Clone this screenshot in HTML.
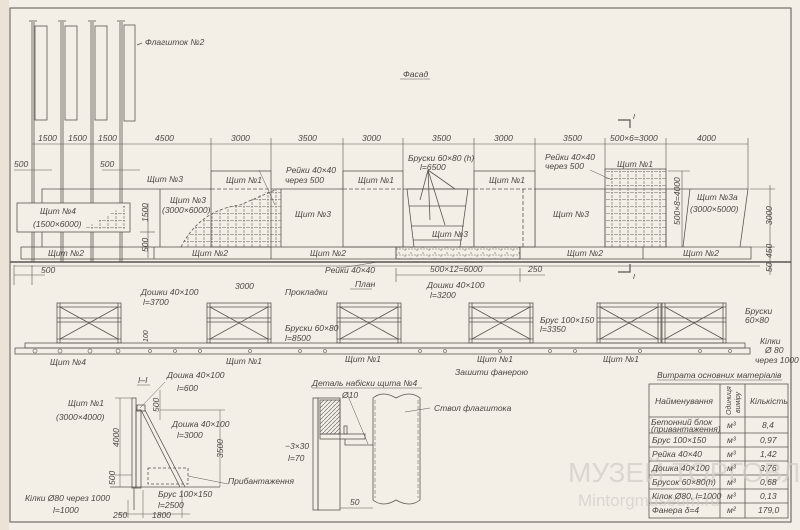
<!DOCTYPE html>
<html><head><meta charset="utf-8"><style>
html,body{margin:0;padding:0;background:#f3efe6;}
svg{display:block}
text{font-family:"Liberation Sans",sans-serif;font-style:italic;fill:#4a4642;font-size:8.5px}
</style></head><body>
<svg width="800" height="530" viewBox="0 0 800 530" xmlns="http://www.w3.org/2000/svg">
<defs>
<pattern id="grid" width="8" height="7" patternUnits="userSpaceOnUse">
<path d="M0 3.5H8M4 0V7" stroke="#6a6560" stroke-width="0.6" stroke-dasharray="2 1"/>
</pattern>
<pattern id="brick" width="12" height="6" patternUnits="userSpaceOnUse">
<path d="M0 3H12M3 0V3M9 3V6" stroke="#6a6560" stroke-width="0.6" stroke-dasharray="2 1"/>
</pattern>
<pattern id="hatch" width="4" height="4" patternUnits="userSpaceOnUse">
<path d="M0 4L4 0" stroke="#555" stroke-width="0.6"/>
</pattern>
</defs>
<rect x="0" y="0" width="800" height="530" fill="#f3efe6"/>
<rect x="0" y="0" width="9" height="530" fill="#ebe3d6"/>
<g fill="none" stroke="#5a5550" stroke-width="0.8">
<rect x="10" y="8" width="781" height="514" stroke-width="1"/>
<g>
<line x1="32" y1="22" x2="32" y2="262"/><line x1="34" y1="22" x2="34" y2="262"/><rect x="35" y="26" width="12" height="94"/>
<line x1="61" y1="22" x2="61" y2="262"/><line x1="63" y1="22" x2="63" y2="262"/><rect x="65" y="26" width="12" height="94"/>
<line x1="91" y1="22" x2="91" y2="262"/><line x1="93" y1="22" x2="93" y2="262"/><rect x="95" y="26" width="12" height="94"/>
<line x1="120" y1="22" x2="120" y2="262"/><line x1="122" y1="22" x2="122" y2="262"/><rect x="124" y="25" width="11" height="96"/>
<line x1="29" y1="21" x2="37" y2="21"/><line x1="58" y1="21" x2="66" y2="21"/><line x1="88" y1="21" x2="96" y2="21"/><line x1="117" y1="21" x2="125" y2="21"/>
<line x1="137" y1="45" x2="142" y2="43"/>
</g>
<line x1="32" y1="144" x2="748" y2="144" stroke-width="0.6"/>
<g stroke-width="0.6">
<line x1="211" y1="138" x2="211" y2="171"/><line x1="271" y1="138" x2="271" y2="171"/><line x1="343" y1="138" x2="343" y2="189"/><line x1="403" y1="138" x2="403" y2="171"/><line x1="474" y1="138" x2="474" y2="171"/><line x1="535" y1="138" x2="535" y2="171"/><line x1="605" y1="138" x2="605" y2="171"/><line x1="666" y1="138" x2="666" y2="171"/><line x1="748" y1="138" x2="748" y2="189"/>
<line x1="14" y1="170" x2="52" y2="170"/><line x1="102" y1="170" x2="140" y2="170"/>
<line x1="750" y1="189" x2="775" y2="189"/><line x1="750" y1="247" x2="775" y2="247"/><line x1="770" y1="185" x2="770" y2="275"/>
<line x1="14" y1="265" x2="14" y2="285"/><line x1="32" y1="265" x2="32" y2="285"/><line x1="14" y1="275" x2="45" y2="275"/>
<line x1="396" y1="268" x2="396" y2="282"/><line x1="520" y1="268" x2="520" y2="282"/><line x1="396" y1="275" x2="545" y2="275"/>
<line x1="148" y1="203" x2="148" y2="258"/><line x1="140" y1="232" x2="155" y2="232"/>
<line x1="668" y1="171" x2="690" y2="171"/><line x1="682" y1="171" x2="682" y2="247"/>
</g>
<path d="M42 247V189H748L740 247"/>
<line x1="160" y1="189" x2="160" y2="247"/><line x1="281" y1="189" x2="281" y2="247"/><line x1="403" y1="189" x2="403" y2="247"/><line x1="474" y1="189" x2="474" y2="247"/><line x1="535" y1="189" x2="535" y2="247"/><line x1="605" y1="189" x2="605" y2="247"/><line x1="666" y1="189" x2="666" y2="247"/><line x1="690" y1="189" x2="683" y2="247"/>
<rect x="211" y="171" width="60" height="76" fill="#f3efe6"/>
<rect x="343" y="171" width="60" height="76" fill="#f3efe6"/>
<rect x="474" y="171" width="61" height="76" fill="#f3efe6"/>
<rect x="605" y="169" width="61" height="78" fill="url(#grid)"/>
<line x1="211" y1="189" x2="271" y2="189" stroke-dasharray="4 2"/><line x1="343" y1="189" x2="403" y2="189" stroke-dasharray="4 2"/><line x1="474" y1="189" x2="535" y2="189" stroke-dasharray="4 2"/><line x1="523" y1="189" x2="523" y2="247" stroke-dasharray="4 2"/>
<path d="M181 247Q200 210 240 205L270 190L281 189V247Z" fill="url(#grid)" stroke="none"/>
<path d="M181 247Q200 210 240 205L275 190" stroke-dasharray="3 2"/>
<path d="M407 189L414 247M468 189L460 247"/>
<line x1="407" y1="189" x2="468" y2="189"/><line x1="409" y1="206" x2="466" y2="206"/><line x1="411" y1="226" x2="464" y2="226"/><line x1="413" y1="240" x2="462" y2="240"/>
<line x1="428" y1="170" x2="420" y2="200"/><line x1="428" y1="170" x2="430" y2="220"/><line x1="428" y1="170" x2="445" y2="225"/><line x1="428" y1="170" x2="455" y2="189"/>
<rect x="17" y="203" width="113" height="29" fill="#f3efe6"/>
<path d="M82 230L125 205V230Z" fill="url(#grid)" stroke="none"/>
<rect x="21" y="247" width="730" height="12"/>
<line x1="154" y1="247" x2="154" y2="259"/><line x1="271" y1="247" x2="271" y2="259"/><line x1="396" y1="247" x2="396" y2="259"/><line x1="520" y1="247" x2="520" y2="259"/><line x1="643" y1="247" x2="643" y2="259"/>
<rect x="396" y="247" width="124" height="12" fill="url(#brick)"/>
<line x1="10" y1="262" x2="791" y2="262" stroke-width="1.6"/>
<line x1="14" y1="266" x2="760" y2="266" stroke-width="0.5"/>
<line x1="340" y1="268" x2="378" y2="262" stroke-width="0.5"/>
<line x1="259" y1="170" x2="275" y2="205" stroke-width="0.5"/>
<line x1="590" y1="170" x2="612" y2="180" stroke-width="0.5"/>
<path d="M618 120H630V128" stroke-width="1.2"/><path d="M618 272H630V264" stroke-width="1.2"/>
<g>
<rect x="15" y="348" width="735" height="6"/>
<rect x="25" y="343" width="720" height="5"/>
<g id="fr">
<rect x="57" y="303" width="64" height="40"/><line x1="57" y1="307" x2="121" y2="307"/><line x1="57" y1="339" x2="121" y2="339"/>
<line x1="60" y1="303" x2="60" y2="343"/><line x1="118" y1="303" x2="118" y2="343"/>
<line x1="60" y1="307" x2="118" y2="339"/><line x1="60" y1="339" x2="118" y2="307"/>
<line x1="57" y1="318" x2="121" y2="318"/><line x1="57" y1="322" x2="121" y2="322"/>
</g>
<use href="#fr" x="150"/><use href="#fr" x="280"/><use href="#fr" x="412"/><use href="#fr" x="540"/><use href="#fr" x="605"/>
<g stroke-width="0.6">
<circle cx="35" cy="351" r="2"/><circle cx="60" cy="351" r="2"/><circle cx="90" cy="351" r="2"/><circle cx="118" cy="351" r="2"/><circle cx="150" cy="351" r="1.5"/><circle cx="175" cy="351" r="1.5"/><circle cx="200" cy="351" r="1.5"/><circle cx="250" cy="351" r="1.5"/><circle cx="300" cy="351" r="1.5"/><circle cx="325" cy="351" r="1.5"/><circle cx="420" cy="351" r="1.5"/><circle cx="445" cy="351" r="1.5"/><circle cx="500" cy="351" r="1.5"/><circle cx="550" cy="351" r="1.5"/><circle cx="575" cy="351" r="1.5"/><circle cx="640" cy="351" r="1.5"/><circle cx="700" cy="351" r="1.5"/><circle cx="730" cy="351" r="1.5"/>
</g>
</g>
<g>
<line x1="110" y1="487" x2="220" y2="487"/>
<rect x="132" y="398" width="4" height="90"/><rect x="136" y="410" width="5" height="78"/>
<path d="M141 410L180 487M145 410L185 487"/>
<rect x="137" y="405" width="8" height="6"/>
<rect x="148" y="468" width="40" height="16" stroke-dasharray="3 2"/>
<line x1="134" y1="487" x2="134" y2="510"/>
<g stroke-width="0.5">
<line x1="120" y1="398" x2="120" y2="487"/><line x1="115" y1="398" x2="132" y2="398"/><line x1="115" y1="475" x2="132" y2="475"/>
<line x1="160" y1="410" x2="225" y2="410"/><line x1="220" y1="410" x2="220" y2="487"/><line x1="160" y1="390" x2="160" y2="420"/>
<line x1="118" y1="514" x2="190" y2="514"/><line x1="128" y1="500" x2="128" y2="518"/><line x1="143" y1="490" x2="143" y2="518"/><line x1="182" y1="490" x2="182" y2="518"/>
<line x1="140" y1="408" x2="165" y2="382"/><line x1="188" y1="476" x2="228" y2="484"/>
</g>
</g>
<g>
<rect x="313" y="398" width="5" height="112"/><rect x="318" y="398" width="22" height="112"/>
<rect x="320" y="400" width="20" height="34" fill="url(#hatch)"/>
<rect x="320" y="434" width="45" height="5"/>
<rect x="344" y="426" width="3" height="8"/>
<path d="M345 439V445H373"/>
<path d="M373 398Q383 390 396 398Q410 390 420 398V500Q410 508 396 500Q383 508 373 500Z"/>
<line x1="375" y1="400" x2="375" y2="498" stroke-dasharray="4 2" stroke-width="0.5"/><line x1="418" y1="400" x2="418" y2="498" stroke-dasharray="4 2" stroke-width="0.5"/>
<line x1="340" y1="508" x2="373" y2="508" stroke-width="0.5"/>
<line x1="348" y1="396" x2="368" y2="444" stroke-width="0.5"/><line x1="405" y1="412" x2="430" y2="408" stroke-width="0.5"/>
</g>
<g>
<rect x="649" y="384" width="139" height="134"/>
<line x1="720" y1="384" x2="720" y2="518"/><line x1="745" y1="384" x2="745" y2="518"/>
<line x1="649" y1="417" x2="788" y2="417"/><line x1="649" y1="433" x2="788" y2="433"/><line x1="649" y1="447" x2="788" y2="447"/><line x1="649" y1="461" x2="788" y2="461"/><line x1="649" y1="475" x2="788" y2="475"/><line x1="649" y1="489" x2="788" y2="489"/><line x1="649" y1="503" x2="788" y2="503"/>
<line x1="657" y1="380" x2="782" y2="380" stroke-width="0.5"/>
</g>
<line x1="400" y1="79" x2="430" y2="79" stroke-width="0.5"/>
<line x1="350" y1="289" x2="372" y2="289" stroke-width="0.5"/>
<line x1="312" y1="388" x2="422" y2="388" stroke-width="0.5"/>
<line x1="137" y1="385" x2="150" y2="385" stroke-width="0.5"/>
</g>
<text x="568" y="482" style="font-size:28px;font-style:normal;fill:#d2cec8;opacity:.7">МУЗЕЙ ТОРГОВЛІ</text>
<text x="578" y="506" style="font-size:17px;font-style:normal;fill:#d2cec8;opacity:.7">Mintorgmuseum.ru</text>
<text x="145" y="45">Флагшток №2</text>
<text x="403" y="77">Фасад</text>
<text x="38" y="141">1500</text><text x="68" y="141">1500</text><text x="98" y="141">1500</text>
<text x="155" y="141">4500</text><text x="231" y="141">3000</text><text x="298" y="141">3500</text><text x="362" y="141">3000</text><text x="432" y="141">3500</text><text x="494" y="141">3000</text><text x="563" y="141">3500</text><text x="610" y="141">500×6=3000</text><text x="697" y="141">4000</text>
<text x="14" y="167">500</text><text x="100" y="167">500</text>
<text x="147" y="182">Щит №3</text>
<text x="226" y="183">Щит №1</text><text x="358" y="183">Щит №1</text><text x="489" y="183">Щит №1</text><text x="617" y="167">Щит №1</text>
<text x="286" y="173">Рейки 40×40</text><text x="285" y="183">через 500</text>
<text x="545" y="160">Рейки 40×40</text><text x="545" y="169">через 500</text>
<text x="408" y="161">Бруски 60×80 (h)</text><text x="420" y="170">l=6500</text>
<text x="170" y="203">Щит №3</text><text x="162" y="213">(3000×6000)</text>
<text x="295" y="217">Щит №3</text><text x="553" y="217">Щит №3</text><text x="432" y="237">Щит №3</text>
<text x="697" y="200">Щит №3а</text><text x="690" y="212">(3000×5000)</text>
<text x="40" y="214">Щит №4</text><text x="33" y="227">(1500×6000)</text>
<text x="48" y="256">Щит №2</text><text x="192" y="256">Щит №2</text><text x="310" y="256">Щит №2</text><text x="567" y="256">Щит №2</text><text x="683" y="256">Щит №2</text>
<text x="325" y="273">Рейки 40×40</text>
<text x="41" y="273">500</text><text x="430" y="272">500×12=6000</text><text x="528" y="272">250</text>
<text x="633" y="119" style="font-size:7px">I</text><text x="633" y="279" style="font-size:7px">I</text>
<text transform="translate(148,222) rotate(-90)">1500</text><text transform="translate(148,252) rotate(-90)">500</text>
<text transform="translate(680,225) rotate(-90)">500×8=4000</text>
<text transform="translate(772,225) rotate(-90)">3000</text><text transform="translate(772,258) rotate(-90)">450</text><text transform="translate(772,272) rotate(-90)">50</text>
<text x="355" y="287">План</text>
<text x="235" y="289">3000</text>
<text x="141" y="295">Дошки 40×100</text><text x="143" y="305">l=3700</text>
<text x="285" y="295">Прокладки</text>
<text x="427" y="288">Дошки 40×100</text><text x="430" y="298">l=3200</text>
<text x="285" y="331">Бруски 60×80</text><text x="285" y="341">l=8500</text>
<text x="540" y="323">Брус 100×150</text><text x="540" y="332">l=3350</text>
<text x="745" y="314">Бруски</text><text x="745" y="323">60×80</text>
<text x="760" y="344">Кілки</text><text x="765" y="353">Ø 80</text><text x="755" y="363">через 1000</text>
<text x="50" y="365">Щит №4</text><text x="226" y="364">Щит №1</text><text x="345" y="362">Щит №1</text><text x="477" y="362">Щит №1</text><text x="603" y="362">Щит №1</text>
<text x="455" y="375">Зашити фанерою</text>
<text transform="translate(148,342) rotate(-90)" style="font-size:7px">100</text>
<text x="138" y="383">I–I</text>
<text x="167" y="378">Дошка 40×100</text><text x="177" y="391">l=600</text>
<text x="68" y="406">Щит №1</text><text x="56" y="420">(3000×4000)</text>
<text x="172" y="427">Дошка 40×100</text><text x="177" y="438">l=3000</text>
<text x="228" y="484">Прибантаження</text>
<text x="158" y="497">Брус 100×150</text><text x="158" y="508">l=2500</text>
<text x="25" y="501">Кілки Ø80 через 1000</text><text x="53" y="513">l=1000</text>
<text x="113" y="518">250</text><text x="152" y="518">1800</text>
<text transform="translate(119,447) rotate(-90)">4000</text><text transform="translate(115,485) rotate(-90)">500</text>
<text transform="translate(159,412) rotate(-90)">500</text><text transform="translate(223,458) rotate(-90)">3500</text>
<text x="312" y="386">Деталь набіски щита №4</text>
<text x="342" y="398">Ø10</text>
<text x="434" y="411">Ствол флагштока</text>
<text x="285" y="449">−3×30</text><text x="288" y="461">l=70</text>
<text x="350" y="505">50</text>
<text x="657" y="378">Витрата основних матеріалів</text>
<text x="655" y="404">Найменування</text>
<text transform="translate(731,415) rotate(-90)" style="font-size:7px">Одиниця</text><text transform="translate(740,413) rotate(-90)" style="font-size:7px">виміру</text>
<text x="750" y="404">Кількість</text>
<g style="font-size:7.5px">
<text x="651" y="425">Бетонний блок</text><text x="651" y="432">(привантаження)</text>
<text x="652" y="443">Брус 100×150</text><text x="652" y="457">Рейка 40×40</text><text x="652" y="471">Дошка 40×100</text><text x="652" y="485">Брусок 60×80(h)</text><text x="652" y="499">Кілок Ø80, l=1000</text><text x="652" y="513">Фанера δ=4</text>
<text x="727" y="428">м³</text><text x="727" y="443">м³</text><text x="727" y="457">м³</text><text x="727" y="471">м³</text><text x="727" y="485">м³</text><text x="727" y="499">м³</text><text x="727" y="513">м²</text>
<text x="762" y="428">8,4</text><text x="760" y="443">0,97</text><text x="760" y="457">1,42</text><text x="760" y="471">3,76</text><text x="760" y="485">0,68</text><text x="760" y="499">0,13</text><text x="758" y="513">179,0</text>
</g>
</svg>
</body></html>
